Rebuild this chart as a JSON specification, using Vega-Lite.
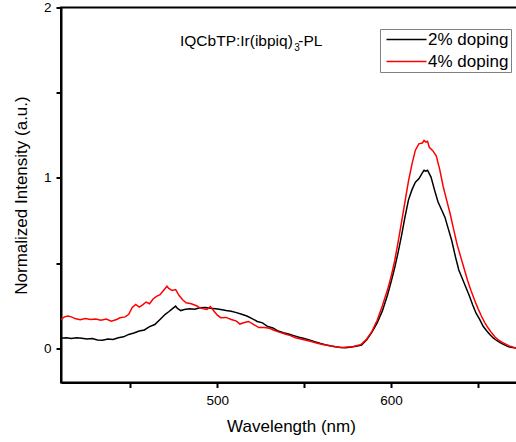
{
  "$schema": "https://vega.github.io/schema/vega-lite/v6.json",
  "width": 460,
  "height": 375,
  "autosize": {"type": "none"},
  "padding": {"left": 61, "top": 7.5, "right": 0, "bottom": 60},
  "background": "white",
  "config": {
    "font": "Liberation Sans",
    "view": {"stroke": "black", "strokeWidth": 2},
    "axis": {"grid": false, "domainColor": "black", "domainWidth": 2, "tickColor": "black", "tickWidth": 2, "tickSize": 5, "labelFont": "Liberation Sans", "labelFontSize": 13.5, "labelColor": "black", "titleFont": "Liberation Sans", "titleFontSize": 17, "titleFontWeight": "normal", "titleColor": "black"}
  },
  "datasets": {
    "spectra": [
      {"wl": 410, "v": 0.060, "s": "2% doping"}, {"wl": 413, "v": 0.062, "s": "2% doping"}, {"wl": 416, "v": 0.058, "s": "2% doping"}, {"wl": 419, "v": 0.063, "s": "2% doping"}, {"wl": 422, "v": 0.060, "s": "2% doping"}, {"wl": 425, "v": 0.055, "s": "2% doping"}, {"wl": 428, "v": 0.058, "s": "2% doping"}, {"wl": 431, "v": 0.050, "s": "2% doping"}, {"wl": 434, "v": 0.048, "s": "2% doping"}, {"wl": 437, "v": 0.055, "s": "2% doping"}, {"wl": 440, "v": 0.053, "s": "2% doping"}, {"wl": 443, "v": 0.062, "s": "2% doping"}, {"wl": 446, "v": 0.068, "s": "2% doping"}, {"wl": 449, "v": 0.082, "s": "2% doping"}, {"wl": 452, "v": 0.090, "s": "2% doping"}, {"wl": 455, "v": 0.102, "s": "2% doping"}, {"wl": 458, "v": 0.108, "s": "2% doping"}, {"wl": 461, "v": 0.128, "s": "2% doping"}, {"wl": 464, "v": 0.140, "s": "2% doping"}, {"wl": 467, "v": 0.170, "s": "2% doping"}, {"wl": 470, "v": 0.200, "s": "2% doping"}, {"wl": 472, "v": 0.215, "s": "2% doping"}, {"wl": 474, "v": 0.232, "s": "2% doping"}, {"wl": 476, "v": 0.248, "s": "2% doping"}, {"wl": 477, "v": 0.235, "s": "2% doping"}, {"wl": 479, "v": 0.222, "s": "2% doping"}, {"wl": 481, "v": 0.228, "s": "2% doping"}, {"wl": 484, "v": 0.232, "s": "2% doping"}, {"wl": 487, "v": 0.230, "s": "2% doping"}, {"wl": 490, "v": 0.238, "s": "2% doping"}, {"wl": 493, "v": 0.240, "s": "2% doping"}, {"wl": 496, "v": 0.236, "s": "2% doping"}, {"wl": 499, "v": 0.233, "s": "2% doping"}, {"wl": 502, "v": 0.228, "s": "2% doping"}, {"wl": 505, "v": 0.222, "s": "2% doping"}, {"wl": 508, "v": 0.218, "s": "2% doping"}, {"wl": 511, "v": 0.210, "s": "2% doping"}, {"wl": 514, "v": 0.200, "s": "2% doping"}, {"wl": 517, "v": 0.190, "s": "2% doping"}, {"wl": 520, "v": 0.175, "s": "2% doping"}, {"wl": 523, "v": 0.158, "s": "2% doping"}, {"wl": 526, "v": 0.150, "s": "2% doping"}, {"wl": 529, "v": 0.128, "s": "2% doping"}, {"wl": 532, "v": 0.120, "s": "2% doping"}, {"wl": 535, "v": 0.102, "s": "2% doping"}, {"wl": 538, "v": 0.092, "s": "2% doping"}, {"wl": 541, "v": 0.085, "s": "2% doping"}, {"wl": 544, "v": 0.075, "s": "2% doping"}, {"wl": 547, "v": 0.065, "s": "2% doping"}, {"wl": 550, "v": 0.058, "s": "2% doping"}, {"wl": 553, "v": 0.050, "s": "2% doping"}, {"wl": 556, "v": 0.040, "s": "2% doping"}, {"wl": 559, "v": 0.030, "s": "2% doping"}, {"wl": 562, "v": 0.022, "s": "2% doping"}, {"wl": 565, "v": 0.015, "s": "2% doping"}, {"wl": 568, "v": 0.010, "s": "2% doping"}, {"wl": 571, "v": 0.006, "s": "2% doping"}, {"wl": 574, "v": 0.004, "s": "2% doping"}, {"wl": 577, "v": 0.008, "s": "2% doping"}, {"wl": 580, "v": 0.012, "s": "2% doping"}, {"wl": 583, "v": 0.020, "s": "2% doping"}, {"wl": 586, "v": 0.050, "s": "2% doping"}, {"wl": 589, "v": 0.095, "s": "2% doping"}, {"wl": 592, "v": 0.150, "s": "2% doping"}, {"wl": 595, "v": 0.220, "s": "2% doping"}, {"wl": 598, "v": 0.315, "s": "2% doping"}, {"wl": 600, "v": 0.390, "s": "2% doping"}, {"wl": 602, "v": 0.470, "s": "2% doping"}, {"wl": 604, "v": 0.560, "s": "2% doping"}, {"wl": 606, "v": 0.660, "s": "2% doping"}, {"wl": 608, "v": 0.770, "s": "2% doping"}, {"wl": 610, "v": 0.870, "s": "2% doping"}, {"wl": 612, "v": 0.930, "s": "2% doping"}, {"wl": 614, "v": 0.975, "s": "2% doping"}, {"wl": 616, "v": 0.995, "s": "2% doping"}, {"wl": 618, "v": 1.030, "s": "2% doping"}, {"wl": 619, "v": 1.045, "s": "2% doping"}, {"wl": 620, "v": 1.040, "s": "2% doping"}, {"wl": 621, "v": 1.045, "s": "2% doping"}, {"wl": 623, "v": 1.005, "s": "2% doping"}, {"wl": 625, "v": 0.930, "s": "2% doping"}, {"wl": 627, "v": 0.860, "s": "2% doping"}, {"wl": 629, "v": 0.815, "s": "2% doping"}, {"wl": 631, "v": 0.770, "s": "2% doping"}, {"wl": 633, "v": 0.700, "s": "2% doping"}, {"wl": 635, "v": 0.630, "s": "2% doping"}, {"wl": 637, "v": 0.540, "s": "2% doping"}, {"wl": 639, "v": 0.460, "s": "2% doping"}, {"wl": 641, "v": 0.410, "s": "2% doping"}, {"wl": 643, "v": 0.360, "s": "2% doping"}, {"wl": 645, "v": 0.310, "s": "2% doping"}, {"wl": 647, "v": 0.255, "s": "2% doping"}, {"wl": 649, "v": 0.205, "s": "2% doping"}, {"wl": 651, "v": 0.170, "s": "2% doping"}, {"wl": 653, "v": 0.130, "s": "2% doping"}, {"wl": 655, "v": 0.104, "s": "2% doping"}, {"wl": 657, "v": 0.080, "s": "2% doping"}, {"wl": 659, "v": 0.060, "s": "2% doping"}, {"wl": 661, "v": 0.045, "s": "2% doping"}, {"wl": 663, "v": 0.032, "s": "2% doping"}, {"wl": 665, "v": 0.022, "s": "2% doping"}, {"wl": 667, "v": 0.012, "s": "2% doping"}, {"wl": 669, "v": 0.006, "s": "2% doping"}, {"wl": 672, "v": 0.002, "s": "2% doping"}, {"wl": 675, "v": -0.005, "s": "2% doping"},
      {"wl": 410, "v": 0.170, "s": "4% doping"}, {"wl": 412, "v": 0.185, "s": "4% doping"}, {"wl": 414, "v": 0.190, "s": "4% doping"}, {"wl": 416, "v": 0.185, "s": "4% doping"}, {"wl": 418, "v": 0.175, "s": "4% doping"}, {"wl": 421, "v": 0.168, "s": "4% doping"}, {"wl": 424, "v": 0.175, "s": "4% doping"}, {"wl": 427, "v": 0.170, "s": "4% doping"}, {"wl": 430, "v": 0.172, "s": "4% doping"}, {"wl": 433, "v": 0.165, "s": "4% doping"}, {"wl": 436, "v": 0.172, "s": "4% doping"}, {"wl": 439, "v": 0.160, "s": "4% doping"}, {"wl": 442, "v": 0.170, "s": "4% doping"}, {"wl": 444, "v": 0.180, "s": "4% doping"}, {"wl": 447, "v": 0.185, "s": "4% doping"}, {"wl": 449, "v": 0.200, "s": "4% doping"}, {"wl": 451, "v": 0.240, "s": "4% doping"}, {"wl": 453, "v": 0.258, "s": "4% doping"}, {"wl": 455, "v": 0.242, "s": "4% doping"}, {"wl": 457, "v": 0.255, "s": "4% doping"}, {"wl": 459, "v": 0.272, "s": "4% doping"}, {"wl": 461, "v": 0.262, "s": "4% doping"}, {"wl": 463, "v": 0.290, "s": "4% doping"}, {"wl": 465, "v": 0.305, "s": "4% doping"}, {"wl": 467, "v": 0.315, "s": "4% doping"}, {"wl": 469, "v": 0.340, "s": "4% doping"}, {"wl": 471, "v": 0.365, "s": "4% doping"}, {"wl": 472, "v": 0.352, "s": "4% doping"}, {"wl": 474, "v": 0.340, "s": "4% doping"}, {"wl": 476, "v": 0.345, "s": "4% doping"}, {"wl": 478, "v": 0.310, "s": "4% doping"}, {"wl": 480, "v": 0.285, "s": "4% doping"}, {"wl": 482, "v": 0.268, "s": "4% doping"}, {"wl": 485, "v": 0.262, "s": "4% doping"}, {"wl": 488, "v": 0.250, "s": "4% doping"}, {"wl": 490, "v": 0.238, "s": "4% doping"}, {"wl": 492, "v": 0.232, "s": "4% doping"}, {"wl": 494, "v": 0.228, "s": "4% doping"}, {"wl": 496, "v": 0.245, "s": "4% doping"}, {"wl": 498, "v": 0.220, "s": "4% doping"}, {"wl": 500, "v": 0.195, "s": "4% doping"}, {"wl": 502, "v": 0.180, "s": "4% doping"}, {"wl": 505, "v": 0.182, "s": "4% doping"}, {"wl": 508, "v": 0.170, "s": "4% doping"}, {"wl": 511, "v": 0.160, "s": "4% doping"}, {"wl": 513, "v": 0.143, "s": "4% doping"}, {"wl": 515, "v": 0.150, "s": "4% doping"}, {"wl": 518, "v": 0.158, "s": "4% doping"}, {"wl": 521, "v": 0.140, "s": "4% doping"}, {"wl": 524, "v": 0.122, "s": "4% doping"}, {"wl": 527, "v": 0.122, "s": "4% doping"}, {"wl": 530, "v": 0.118, "s": "4% doping"}, {"wl": 533, "v": 0.105, "s": "4% doping"}, {"wl": 536, "v": 0.094, "s": "4% doping"}, {"wl": 539, "v": 0.085, "s": "4% doping"}, {"wl": 542, "v": 0.075, "s": "4% doping"}, {"wl": 545, "v": 0.063, "s": "4% doping"}, {"wl": 548, "v": 0.055, "s": "4% doping"}, {"wl": 551, "v": 0.048, "s": "4% doping"}, {"wl": 554, "v": 0.040, "s": "4% doping"}, {"wl": 557, "v": 0.032, "s": "4% doping"}, {"wl": 560, "v": 0.024, "s": "4% doping"}, {"wl": 563, "v": 0.018, "s": "4% doping"}, {"wl": 566, "v": 0.012, "s": "4% doping"}, {"wl": 569, "v": 0.008, "s": "4% doping"}, {"wl": 572, "v": 0.005, "s": "4% doping"}, {"wl": 575, "v": 0.008, "s": "4% doping"}, {"wl": 578, "v": 0.010, "s": "4% doping"}, {"wl": 581, "v": 0.018, "s": "4% doping"}, {"wl": 583, "v": 0.025, "s": "4% doping"}, {"wl": 586, "v": 0.055, "s": "4% doping"}, {"wl": 589, "v": 0.100, "s": "4% doping"}, {"wl": 592, "v": 0.165, "s": "4% doping"}, {"wl": 595, "v": 0.250, "s": "4% doping"}, {"wl": 598, "v": 0.345, "s": "4% doping"}, {"wl": 600, "v": 0.420, "s": "4% doping"}, {"wl": 602, "v": 0.510, "s": "4% doping"}, {"wl": 604, "v": 0.620, "s": "4% doping"}, {"wl": 606, "v": 0.740, "s": "4% doping"}, {"wl": 608, "v": 0.860, "s": "4% doping"}, {"wl": 610, "v": 0.980, "s": "4% doping"}, {"wl": 612, "v": 1.080, "s": "4% doping"}, {"wl": 614, "v": 1.163, "s": "4% doping"}, {"wl": 616, "v": 1.200, "s": "4% doping"}, {"wl": 618, "v": 1.205, "s": "4% doping"}, {"wl": 619, "v": 1.220, "s": "4% doping"}, {"wl": 620, "v": 1.210, "s": "4% doping"}, {"wl": 621, "v": 1.215, "s": "4% doping"}, {"wl": 622, "v": 1.180, "s": "4% doping"}, {"wl": 624, "v": 1.160, "s": "4% doping"}, {"wl": 626, "v": 1.130, "s": "4% doping"}, {"wl": 628, "v": 1.050, "s": "4% doping"}, {"wl": 630, "v": 0.950, "s": "4% doping"}, {"wl": 632, "v": 0.870, "s": "4% doping"}, {"wl": 634, "v": 0.790, "s": "4% doping"}, {"wl": 636, "v": 0.700, "s": "4% doping"}, {"wl": 638, "v": 0.610, "s": "4% doping"}, {"wl": 640, "v": 0.540, "s": "4% doping"}, {"wl": 642, "v": 0.470, "s": "4% doping"}, {"wl": 644, "v": 0.400, "s": "4% doping"}, {"wl": 646, "v": 0.340, "s": "4% doping"}, {"wl": 648, "v": 0.285, "s": "4% doping"}, {"wl": 650, "v": 0.235, "s": "4% doping"}, {"wl": 652, "v": 0.190, "s": "4% doping"}, {"wl": 654, "v": 0.150, "s": "4% doping"}, {"wl": 656, "v": 0.118, "s": "4% doping"}, {"wl": 658, "v": 0.090, "s": "4% doping"}, {"wl": 660, "v": 0.065, "s": "4% doping"}, {"wl": 662, "v": 0.048, "s": "4% doping"}, {"wl": 664, "v": 0.035, "s": "4% doping"}, {"wl": 666, "v": 0.025, "s": "4% doping"}, {"wl": 668, "v": 0.015, "s": "4% doping"}, {"wl": 670, "v": 0.008, "s": "4% doping"}, {"wl": 672, "v": 0.000, "s": "4% doping"}, {"wl": 675, "v": -0.010, "s": "4% doping"}
    ],
    "labels": [
      {"wl": 478.5, "v": 1.806, "t": "IQCbTP:Ir(ibpiq)", "k": "main"},
      {"wl": 544.2, "v": 1.76, "t": "3", "k": "sub"},
      {"wl": 546.6, "v": 1.806, "t": "-PL", "k": "main"}
    ]
  },
  "layer": [
    {
      "data": {"name": "spectra"},
      "mark": {"type": "line", "strokeWidth": 1.5, "clip": true},
      "encoding": {
        "x": {"field": "wl", "type": "quantitative", "scale": {"domain": [410, 674.8], "nice": false, "zero": false},
          "axis": {"title": "Wavelength (nm)", "values": [450, 500, 550, 600, 650], "labelExpr": "datum.value % 100 === 0 ? datum.label : ''", "labelPadding": 6, "titlePadding": 11}},
        "y": {"field": "v", "type": "quantitative", "scale": {"domain": [-0.2, 2], "nice": false, "zero": false},
          "axis": {"title": "Normalized Intensity (a.u.)", "values": [0, 0.5, 1, 1.5, 2], "format": "~g", "labelExpr": "datum.value % 1 === 0 ? datum.label : ''", "labelPadding": 5, "titlePadding": 13}},
        "color": {"field": "s", "type": "nominal", "scale": {"domain": ["2% doping", "4% doping"], "range": ["#000000", "#ff0000"]},
          "legend": {"title": null, "orient": "none", "legendX": 319, "legendY": 21.5, "padding": 2, "rowPadding": 4, "strokeColor": "#808080", "fillColor": "white", "symbolType": "M-1,0H9", "symbolSize": 64, "symbolStrokeWidth": 1.5, "labelOffset": 29, "labelFontSize": 17, "labelFont": "Liberation Sans", "labelColor": "black"}}
      }
    },
    {
      "data": {"name": "labels"},
      "mark": {"type": "text", "align": "left", "baseline": "middle", "font": "Liberation Sans", "color": "black"},
      "encoding": {
        "x": {"field": "wl", "type": "quantitative"},
        "y": {"field": "v", "type": "quantitative"},
        "text": {"field": "t"},
        "size": {"field": "k", "type": "nominal", "scale": {"domain": ["main", "sub"], "range": [15.5, 10]}, "legend": null}
      }
    }
  ]
}
